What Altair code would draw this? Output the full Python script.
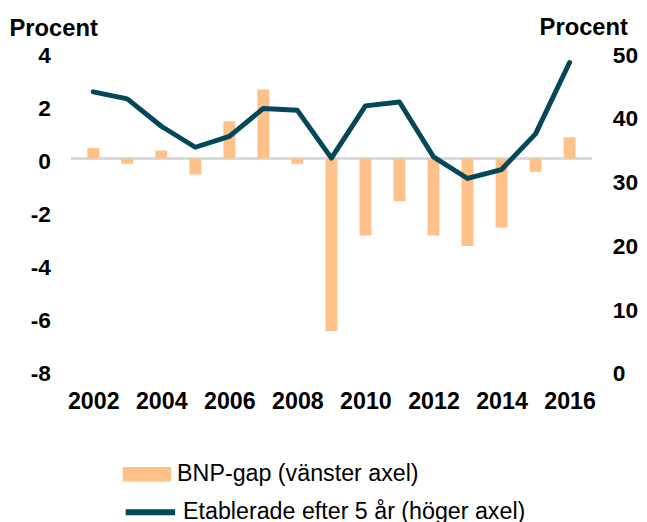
import altair as alt
import pandas as pd

years = list(range(2002, 2017))
bnp_gap = [0.4, -0.2, 0.3, -0.6, 1.4, 2.6, -0.2, -6.5, -2.9, -1.6, -2.9, -3.3, -2.6, -0.5, 0.8]
etablerade = [43.8, 42.7, 38.4, 35.1, 36.8, 41.2, 40.9, 33.4, 41.6, 42.2, 33.6, 30.2, 31.6, 37.2, 48.4]

label_bar = "BNP-gap (vänster axel)"
label_line = "Etablerade efter 5 år (höger axel)"
left_ticks = [-8, -6, -4, -2, 0, 2, 4]
right_ticks = [0, 10, 20, 30, 40, 50]
x_ticks = [2002, 2004, 2006, 2008, 2010, 2012, 2014, 2016]

ORANGE = "#fec189"
TEAL = "#05475a"
FONT = "Liberation Sans"

df = pd.DataFrame({
    "year": years,
    "bnp": bnp_gap,
    "etab": etablerade,
    "s1": [label_bar] * len(years),
    "s2": [label_line] * len(years),
})

xenc = alt.X("year:Q", scale=alt.Scale(domain=[2001.5, 2016.5], nice=False),
             axis=alt.Axis(values=x_ticks, format="d", title=None, labelPadding=19,
                           labelFontSize=23.5, labelFlush=False))

base = alt.Chart(df)

rule = base.mark_rule(color="#d9d9d9", strokeWidth=2).encode(
    y=alt.datum(0, scale=alt.Scale(domain=[-8, 4], nice=False)))

bars = base.mark_bar(size=12).encode(
    x=xenc,
    y=alt.Y("bnp:Q", scale=alt.Scale(domain=[-8, 4], nice=False),
            axis=alt.Axis(values=left_ticks, title="Procent", titleAngle=0,
                          titleAlign="left", titleBaseline="alphabetic",
                          titleX=-63, titleY=-17, labelPadding=21, labelOffset=3,
                          labelExpr="'' + datum.value")),
    color=alt.Color("s1:N", scale=alt.Scale(domain=[label_bar], range=[ORANGE]),
                    legend=alt.Legend(orient="none", legendX=52, legendY=402, title=None,
                                      symbolType="M-1,-0.3H1V0.3H-1Z", symbolSize=2401,
                                      symbolStrokeWidth=0, symbolOpacity=1, labelOffset=6,
                                      padding=0)),
)

line = base.mark_line(strokeWidth=5, strokeJoin="round", strokeCap="round").encode(
    x=xenc,
    y=alt.Y("etab:Q", scale=alt.Scale(domain=[0, 50], nice=False),
            axis=alt.Axis(values=right_ticks, orient="right", title="Procent", titleAngle=0,
                          titleAlign="left", titleBaseline="alphabetic",
                          titleX=-53, titleY=-18, labelPadding=21, labelOffset=3,
                          labelExpr="'' + datum.value")),
    stroke=alt.Stroke("s2:N", scale=alt.Scale(domain=[label_line], range=[TEAL]),
                      legend=alt.Legend(orient="none", legendX=52, legendY=437, title=None,
                                        symbolType="stroke", symbolSize=2500,
                                        symbolStrokeWidth=6, labelOffset=5, padding=0)),
)

chart = alt.layer(alt.layer(rule, bars), line).resolve_scale(
    y="independent", color="independent", stroke="independent"
).properties(
    width=526, height=322,
    autosize=alt.AutoSizeParams(type="none"),
    padding={"left": 64, "top": 42, "right": 48, "bottom": 150},
).configure_view(stroke=None).configure_axis(
    domain=False, ticks=False, grid=False,
    labelFont=FONT, labelFontSize=23, labelFontWeight="bold", labelColor="#000000",
    titleFont=FONT, titleFontSize=24, titleFontWeight="bold", titleColor="#000000",
).configure_legend(
    labelFont=FONT, labelFontSize=23.5, labelColor="#000000", labelLimit=0,
)

chart.save("out.html", embed_options={"renderer": "svg", "actions": False})
